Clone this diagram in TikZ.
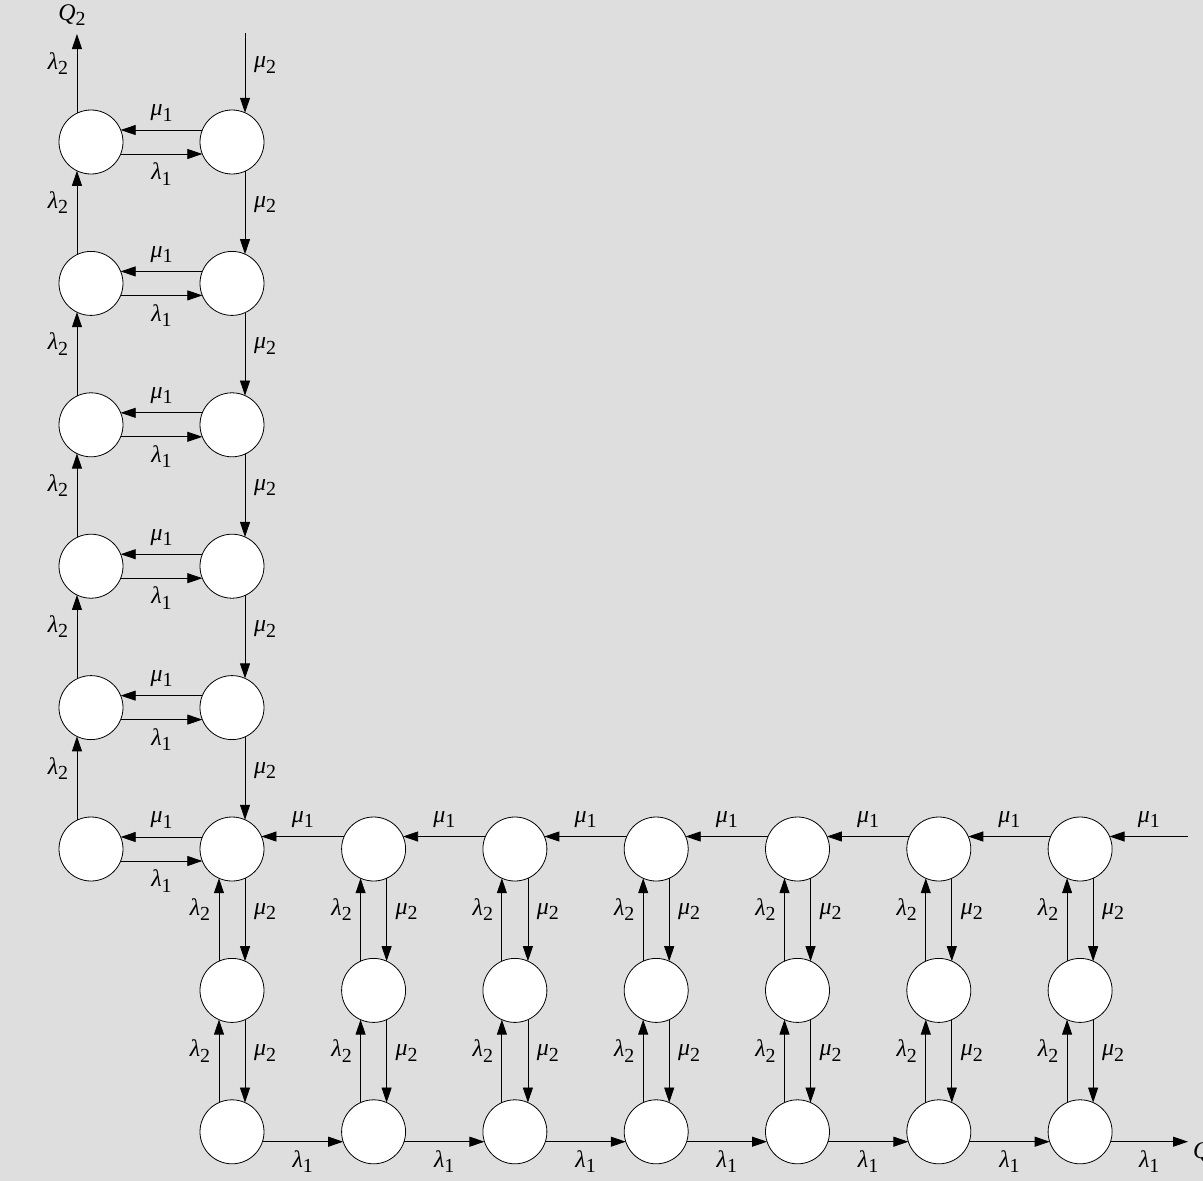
\documentclass[tikz,border=0pt]{standalone}
\usepackage{fontspec}
\setmainfont{Liberation Serif}
\usetikzlibrary{arrows.meta}
\definecolor{bgc}{RGB}{222,222,222}
\newcommand\gl[2]{\textit{#1}\raisebox{-0.22em}{\fontsize{20}{20}\selectfont #2}}
\begin{document}
\begin{tikzpicture}[x=1bp,y=-1bp,
  st/.style={circle,draw,fill=white,minimum size=64bp,inner sep=0pt,outer sep=0pt,line width=0.8bp},
  ar/.style={-{Triangle[length=15bp,width=10bp]},line width=0.8bp},
  lab/.style={font=\fontsize{24}{24}\selectfont,inner sep=0pt,midway},
  labA/.style={lab,yshift=17bp},
  labB/.style={lab,yshift=-20bp},
  labL/.style={lab,xshift=-19bp,yshift=10bp},
  labR/.style={lab,xshift=20bp,yshift=8bp}]
\fill[bgc] (0,0) rectangle (1203,1181);
\useasboundingbox (0,0) rectangle (1203,1181);
% states
\foreach \r in {1,...,6}
  \node[st] (n1-\r) at (91,{142+(\r-1)*141.4}) {};
\foreach \r in {1,...,8}
  \node[st] (n2-\r) at (232,{142+(\r-1)*141.4}) {};
\foreach \c in {3,...,8}
  \foreach \r in {6,7,8}
    \node[st] (n\c-\r) at ({91+(\c-1)*141.3},{142+(\r-1)*141.4}) {};
% left ladder horizontal pairs
\foreach \r in {1,...,6}{
  \draw[ar] (n2-\r.158) -- node[labA]{\gl{μ}{1}} (n1-\r.22);
  \draw[ar] (n1-\r.338) -- node[labB]{\gl{λ}{1}} (n2-\r.202);
}
% left ladder verticals
\foreach \r in {1,...,5}{
  \pgfmathtruncatemacro\s{\r+1}
  \draw[ar] (n1-\s.116) -- node[labL]{\gl{λ}{2}} (n1-\r.244);
  \draw[ar] (n2-\r.294) -- node[labR]{\gl{μ}{2}} (n2-\s.66);
}
% top free ends
\coordinate (qtop) at (77,34);
\coordinate (mtop) at (245,33);
\draw[ar] (n1-1.116) -- node[labL]{\gl{λ}{2}} (n1-1.116 |- qtop);
\node (q2) at (72,15) {\fontsize{24}{24}\selectfont\gl{Q}{2}};
\draw[ar] (n2-1.66 |- mtop) -- node[labR]{\gl{μ}{2}} (n2-1.66);
% main row and bottom row
\foreach \c in {2,...,7}{
  \pgfmathtruncatemacro\s{\c+1}
  \draw[ar] (n\s-6.157) -- node[labA]{\gl{μ}{1}} (n\c-6.23);
  \draw[ar] (n\c-8.342) -- node[labB]{\gl{λ}{1}} (n\s-8.198);
}
\coordinate (min) at (1188,836);
\draw[ar] (n8-6.23 -| min) -- node[labA]{\gl{μ}{1}} (n8-6.23);
\coordinate (lout) at (1188,1142);
\draw[ar] (n8-8.342) -- node[labB]{\gl{λ}{1}} (n8-8.342 -| lout);
\node[anchor=west,inner sep=0pt] (q1) at (1193,1153) {\fontsize{24}{24}\selectfont\gl{Q}{1}};
% vertical pairs
\foreach \c in {2,...,8}
  \foreach \r in {6,7}{
    \pgfmathtruncatemacro\s{\r+1}
    \draw[ar] (n\c-\s.114) -- node[labL]{\gl{λ}{2}} (n\c-\r.246);
    \draw[ar] (n\c-\r.294) -- node[labR]{\gl{μ}{2}} (n\c-\s.66);
  }
\end{tikzpicture}
\end{document}
